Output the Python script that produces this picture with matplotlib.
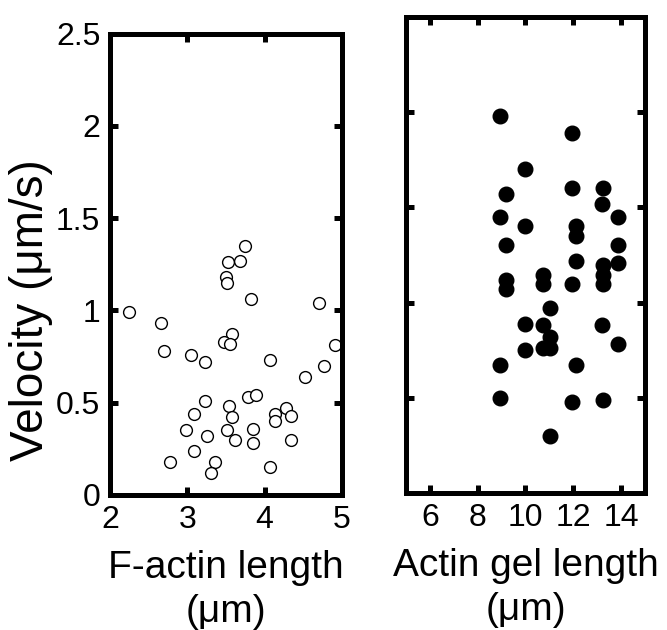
import matplotlib
matplotlib.use("Agg")
import matplotlib.pyplot as plt

plt.rcParams["font.family"] = ["Liberation Sans", "DejaVu Sans"]

# F-actin length (um) vs velocity (um/s)
factin_len = [3.75, 3.52, 3.68, 3.50, 3.51, 3.82, 4.70, 2.25, 2.66, 3.58,
              3.47, 3.55, 2.70, 3.05, 3.23, 4.07, 4.91, 4.77, 4.52, 3.79,
              3.89, 3.23, 3.54, 3.09, 3.58, 4.13, 4.13, 4.27, 4.34, 2.98,
              3.51, 3.26, 3.61, 3.85, 3.85, 4.34, 3.09, 2.77, 3.36, 3.30,
              4.07]
factin_vel = [1.35, 1.26, 1.27, 1.18, 1.15, 1.06, 1.04, 0.99, 0.93, 0.87,
              0.83, 0.82, 0.78, 0.76, 0.72, 0.73, 0.81, 0.70, 0.64, 0.53,
              0.54, 0.51, 0.48, 0.44, 0.42, 0.44, 0.40, 0.47, 0.43, 0.35,
              0.35, 0.32, 0.30, 0.36, 0.28, 0.30, 0.24, 0.18, 0.18, 0.12,
              0.15]

# actin gel length (um) vs velocity (um/s)
gel_len = [8.92, 11.96, 9.99, 9.20, 11.96, 13.25, 13.22, 8.92, 9.99, 13.89,
           12.13, 12.13, 9.20, 13.89, 12.13, 13.25, 13.89, 13.25, 13.25, 11.96,
           9.20, 9.20, 10.73, 10.73, 11.03, 9.99, 10.73, 11.03, 10.73, 11.03,
           9.99, 13.22, 13.89, 8.92, 12.13, 8.92, 11.96, 13.25, 11.03]
gel_vel = [1.98, 1.89, 1.70, 1.57, 1.60, 1.60, 1.52, 1.45, 1.40, 1.45,
           1.40, 1.35, 1.30, 1.30, 1.22, 1.20, 1.21, 1.145, 1.10, 1.10,
           1.12, 1.07, 1.145, 1.10, 0.97, 0.89, 0.88, 0.82, 0.76, 0.76,
           0.75, 0.88, 0.78, 0.67, 0.67, 0.50, 0.48, 0.49, 0.30]

vel_ticks = [0, 0.5, 1, 1.5, 2, 2.5]
vel_labels = ["0", "0.5", "1", "1.5", "2", "2.5"]
factin_ticks = [2, 3, 4, 5]
gel_ticks = [6, 8, 10, 12, 14]

fig = plt.figure(figsize=(6.67, 6.3), dpi=100)
ax1 = fig.add_axes([0.165, 0.2143, 0.3477, 0.7325])
ax2 = fig.add_axes([0.6087, 0.2175, 0.3583, 0.7555])

ax1.plot(factin_len, factin_vel, "o", mfc="white", mec="black", ms=8.5, mew=1.0)
ax2.plot(gel_len, gel_vel, "o", mfc="black", mec="black", ms=10.5)

for ax in (ax1, ax2):
    for s in ax.spines.values():
        s.set_linewidth(3.6)
    ax.tick_params(direction="in", length=6, width=3.6, top=True, right=True,
                   labelsize=23, pad=7)
    ax.set_ylim(0, 2.5)

ax1.set_xlim(2, 5)
ax1.set_xticks(factin_ticks)
ax1.set_yticks(vel_ticks)
ax1.set_yticklabels(vel_labels)
ax1.set_xlabel("F-actin length\n(\u03bcm)", fontsize=28, linespacing=1.3, labelpad=11)
ax1.set_ylabel("Velocity (\u03bcm/s)", fontsize=33)
ax1.yaxis.set_label_coords(-0.245, 0.40)

ax2.set_xlim(5, 15)
ax2.set_xticks(gel_ticks)
ax2.set_yticks(vel_ticks[1:-1])
ax2.set_yticklabels([])
ax2.set_xlabel("Actin gel length\n(\u03bcm)", fontsize=28, linespacing=1.3, labelpad=11)

fig.savefig("out.png", dpi=100)
